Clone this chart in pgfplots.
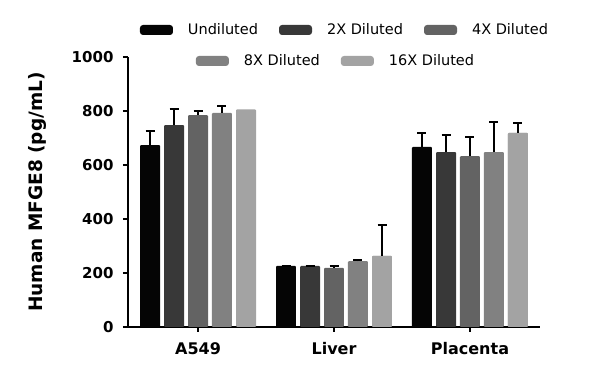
\documentclass[border=0pt]{standalone}
\usepackage{fontspec}
\setmainfont{DejaVu Sans}
\usepackage{pgfplots}
\pgfplotsset{compat=1.18}
\definecolor{c1}{HTML}{050505}
\definecolor{c2}{HTML}{383838}
\definecolor{c3}{HTML}{636363}
\definecolor{c4}{HTML}{818181}
\definecolor{c5}{HTML}{A3A3A3}
\pgfplotsset{
  myleg/.style={legend image code/.code={\fill[##1, rounded corners=3pt] (0pt,-5pt) rectangle (33pt,5pt);}},
  mybar/.style={fill=#1, draw=none, bar width=0.147, bar shift=0pt, rounded corners=1pt,
    error bars/y dir=plus, error bars/y explicit,
    error bars/error bar style={line width=1.6pt, black, rounded corners=0pt},
    error bars/error mark options={rotate=90, mark size=4.5pt, line width=1.6pt, black}},
  mylegstyle/.style={draw=none, fill=none,
    font=\fontsize{14.5}{15}\selectfont, inner sep=0pt,
    /tikz/every odd column/.append style={column sep=13pt},
    /tikz/every even column/.append style={column sep=19pt}},
}
\begin{document}
\begin{tikzpicture}
\useasboundingbox (0,0) rectangle (600pt,385pt);
\begin{axis}[
  at={(128pt,58pt)}, anchor=south west,
  scale only axis, width=412pt, height=270pt,
  xmin=-0.515, xmax=2.515, ymin=0, ymax=1000,
  ybar,
  axis x line*=bottom, axis y line*=left,
  axis line style={line width=1.6pt, -},
  every tick/.style={line width=1.6pt, black},
  tick align=outside, major tick length=5pt,
  xtick={0,1,2}, xticklabels={A549, Liver, Placenta},
  ytick={0,200,400,600,800,1000},
  /pgf/number format/assume math mode=true,
  /pgf/number format/1000 sep={},
  yticklabel style={font=\fontsize{15}{15}\selectfont\bfseries, xshift=-6pt},
  xticklabel style={font=\fontsize{16}{16}\selectfont\bfseries, yshift=-7pt},
  ylabel={Human MFGE8 (pg/mL)},
  ylabel style={font=\fontsize{18.5}{19}\selectfont\bfseries, at={(axis description cs:-0.22,0.5)}, anchor=center},
  legend columns=3,
  legend style={at={(217pt,297pt)}, anchor=center, mylegstyle},
  legend cell align=left,
]
\addplot[mybar=c1, myleg] table[x=x, y=y, y error=e] {
x y e
-0.353 674 52
0.647 226 0
1.647 667 52
};
\addlegendentry{Undiluted}
\addplot[mybar=c2, myleg] table[x=x, y=y, y error=e] {
x y e
-0.176 748 59
0.824 226 0
1.824 648 63
};
\addlegendentry{2X Diluted}
\addplot[mybar=c3, myleg] table[x=x, y=y, y error=e] {
x y e
0 785 15
1 219 7
2 633 71
};
\addlegendentry{4X Diluted}
\addplot[mybar=c4, myleg, forget plot] table[x=x, y=y, y error=e] {
x y e
0.176 793 26
1.176 244 4
2.176 648 111
};
\addplot[fill=c5, draw=none, bar width=0.147, bar shift=0pt, rounded corners=1pt, forget plot] table[x=x, y=y] {
x y
0.353 806
1.353 263
2.353 719
};
\addplot[mybar=c5, myleg, forget plot] table[x=x, y=y, y error=e] {
x y e
1.353 263 115
2.353 719 37
};
\end{axis}
\begin{axis}[
  at={(128pt,58pt)}, anchor=south west,
  scale only axis, width=412pt, height=270pt,
  xmin=0, xmax=1, ymin=0, ymax=1, hide axis,
  legend columns=2,
  legend style={at={(208pt,266pt)}, anchor=center, mylegstyle},
  legend cell align=left,
]
\addlegendimage{fill=c4, draw=none, myleg}
\addlegendentry{8X Diluted}
\addlegendimage{fill=c5, draw=none, myleg}
\addlegendentry{16X Diluted}
\end{axis}
\end{tikzpicture}
\end{document}
